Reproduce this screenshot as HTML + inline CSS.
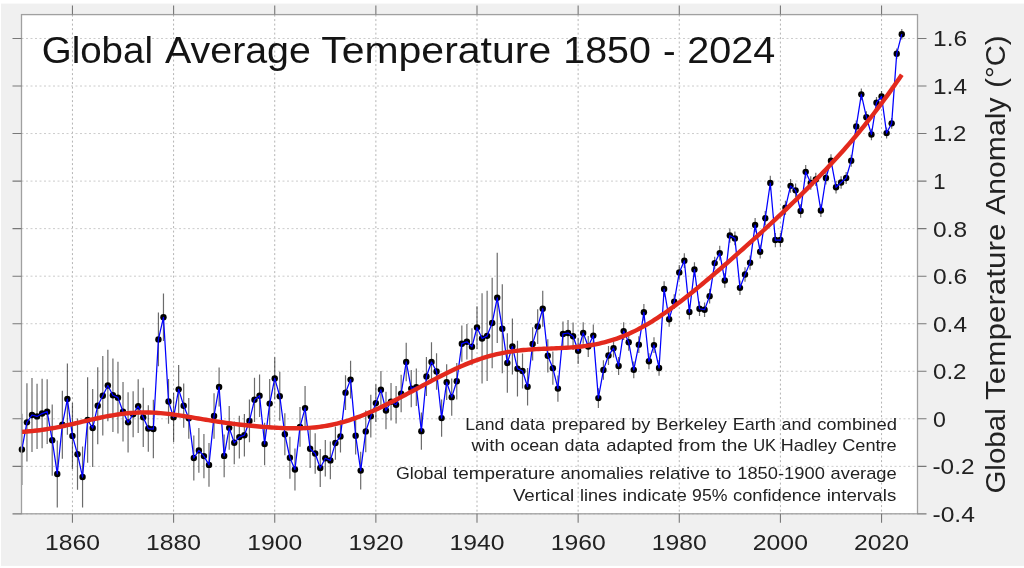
<!DOCTYPE html><html><head><meta charset="utf-8"><title>Global Average Temperature 1850 - 2024</title><style>html,body{margin:0;padding:0;background:#fff;width:1024px;height:568px;overflow:hidden}svg{display:block;will-change:transform}text{font-family:"Liberation Sans",sans-serif}</style></head><body><svg width="1024" height="568" viewBox="0 0 1024 568"><rect x="0" y="0" width="1024" height="568" fill="#ffffff"/><rect x="1" y="3.6" width="1023" height="562.3" fill="#f0f0f0"/><rect x="21.5" y="14.6" width="896.0" height="499.19999999999993" fill="#ffffff"/><path d="M72.45 14.6V513.8M173.59 14.6V513.8M274.73 14.6V513.8M375.86 14.6V513.8M477.00 14.6V513.8M578.14 14.6V513.8M679.28 14.6V513.8M780.42 14.6V513.8M881.55 14.6V513.8" stroke="#b4b4b4" stroke-width="1" stroke-dasharray="2 2.5" fill="none"/><path d="M21.5 38.48H917.5M21.5 86.02H917.5M21.5 133.56H917.5M21.5 181.10H917.5M21.5 228.64H917.5M21.5 276.18H917.5M21.5 323.72H917.5M21.5 371.26H917.5M21.5 418.80H917.5M21.5 466.34H917.5M21.5 513.88H917.5" stroke="#cccccc" stroke-width="1" stroke-dasharray="2 2.5" fill="none"/><path d="M21.88 413.81V485.12M26.94 383.14V461.59M31.99 377.92V452.08M37.05 383.86V448.99M42.11 378.87V448.27M47.17 379.34V444.00M52.22 404.54V475.85M57.28 440.43V507.46M62.34 390.75V458.73M67.39 363.42V434.73M72.45 402.87V468.95M77.51 418.56V489.87M82.56 446.61V507.46M87.62 377.20V462.77M92.68 389.09V467.05M97.73 367.22V444.23M102.79 356.05V435.44M107.85 349.87V421.18M112.91 358.42V432.11M117.96 361.75V433.54M123.02 381.96V441.38M128.08 392.18V452.55M133.13 391.23V437.34M138.19 379.34V433.06M143.25 387.66V447.09M148.30 405.25V451.84M153.36 399.78V458.26M158.42 312.55V366.27M163.47 293.53V341.07M168.53 379.10V423.79M173.59 392.65V442.09M178.64 365.08V413.57M183.70 383.62V427.83M188.76 397.88V438.77M193.82 435.44V480.60M198.87 428.07V472.76M203.93 434.01V478.23M208.99 443.05V486.78M214.04 393.13V438.77M219.10 367.46V406.44M224.16 434.49V477.27M229.21 405.96V449.70M234.27 421.47V464.14M239.33 415.80V458.41M244.38 413.93V456.48M249.44 399.55V442.33M254.50 377.68V421.89M259.56 374.59V416.90M264.61 422.84V465.15M269.67 379.10V428.07M274.73 357.30V399.49M279.78 371.74V420.70M284.84 413.21V455.29M289.90 436.78V478.79M294.95 448.45V490.41M300.01 406.92V446.85M305.07 386.00V430.21M310.12 429.50V468.00M315.18 433.30V473.71M320.24 449.02V486.99M325.30 439.96V476.56M330.35 441.44V479.35M335.41 426.41V459.68M340.47 420.23V452.55M345.52 375.30V410.01M350.58 360.68V398.48M355.64 416.79V454.56M360.69 451.75V489.49M365.75 410.48V452.32M370.81 394.79V437.58M375.86 384.29V421.93M380.92 370.99V408.61M385.98 391.69V429.27M391.03 382.91V420.46M396.09 386.01V423.54M401.15 374.86V412.35M406.21 342.74V381.24M411.26 369.89V407.33M416.32 368.48V405.89M421.38 412.47V449.85M426.43 357.00V395.98M431.49 342.26V381.72M436.55 353.19V389.80M441.60 399.46V436.72M446.66 364.37V400.02M451.72 378.57V415.77M456.77 362.94V399.55M461.83 325.62V361.75M466.89 323.96V359.61M471.95 328.24V365.32M477.00 306.13V348.92M482.06 293.29V383.62M487.12 290.68V381.01M492.17 277.84V368.17M497.23 252.65V342.97M502.29 284.26V373.16M507.34 333.23V392.65M512.40 318.49V374.59M517.46 340.83V396.46M522.51 353.43V388.61M527.57 367.93V405.49M532.63 327.29V360.56M537.68 309.22V343.92M542.74 290.68V326.81M547.80 339.17V372.45M552.86 351.53V384.81M557.91 375.54V401.69M562.97 321.58V346.30M568.03 319.92V346.06M573.08 322.53V350.10M578.14 337.74V363.89M583.20 322.29V343.69M588.25 336.08V357.00M593.31 324.43V346.78M598.37 388.14V408.10M603.42 360.33V379.82M608.48 346.06V365.08M613.54 338.93V357.47M618.60 357.00V375.06M623.65 322.29V339.88M628.71 333.70V350.82M633.77 361.40V378.27M638.82 336.32V352.96M643.88 304.11V320.51M648.94 353.19V369.36M653.99 337.15V353.08M659.05 360.09V375.78M664.11 281.29V296.74M669.16 311.60V326.81M674.22 294.13V309.10M679.28 265.01V279.75M684.33 253.37V268.09M689.39 304.73V319.42M694.45 262.19V276.86M699.51 301.42V316.07M704.56 302.39V317.00M709.62 288.85V303.44M714.68 256.69V269.52M719.73 245.75V260.49M724.79 273.20V287.72M729.85 228.40V242.66M734.90 231.49V245.28M739.96 280.60V295.05M745.02 267.30V281.73M750.07 255.43V269.83M755.13 217.88V232.26M760.19 244.80V258.59M765.25 211.01V225.35M770.30 175.85V190.16M775.36 232.92V247.18M780.42 232.92V247.18M785.47 200.67V214.77M790.53 178.88V192.83M795.59 183.48V197.26M800.64 204.24V217.86M805.70 165.09V178.56M810.76 176.35V189.66M815.81 172.86V186.01M820.87 204.08V217.07M825.93 171.59V184.43M830.99 154.32V167.00M836.04 181.02V193.54M841.10 176.35V188.71M846.16 171.91V184.11M851.21 154.64V166.68M856.27 120.49V132.37M861.33 88.48V100.20M866.38 111.37V122.94M871.44 128.81V140.22M876.50 97.03V108.28M881.55 90.93V102.03M886.61 127.62V138.55M891.67 117.95V128.73M896.72 48.38V59.00M901.78 28.97V39.43" stroke="#000" stroke-opacity="0.58" stroke-width="1.2" fill="none"/><g fill="#000"><circle cx="21.88" cy="449.46" r="3.2"/><circle cx="26.94" cy="422.37" r="3.2"/><circle cx="31.99" cy="415.00" r="3.2"/><circle cx="37.05" cy="416.42" r="3.2"/><circle cx="42.11" cy="413.57" r="3.2"/><circle cx="47.17" cy="411.67" r="3.2"/><circle cx="52.22" cy="440.19" r="3.2"/><circle cx="57.28" cy="473.95" r="3.2"/><circle cx="62.34" cy="424.74" r="3.2"/><circle cx="67.39" cy="399.07" r="3.2"/><circle cx="72.45" cy="435.91" r="3.2"/><circle cx="77.51" cy="454.22" r="3.2"/><circle cx="82.56" cy="477.04" r="3.2"/><circle cx="87.62" cy="419.99" r="3.2"/><circle cx="92.68" cy="428.07" r="3.2"/><circle cx="97.73" cy="405.73" r="3.2"/><circle cx="102.79" cy="395.74" r="3.2"/><circle cx="107.85" cy="385.52" r="3.2"/><circle cx="112.91" cy="395.27" r="3.2"/><circle cx="117.96" cy="397.64" r="3.2"/><circle cx="123.02" cy="411.67" r="3.2"/><circle cx="128.08" cy="422.37" r="3.2"/><circle cx="133.13" cy="414.28" r="3.2"/><circle cx="138.19" cy="406.20" r="3.2"/><circle cx="143.25" cy="417.37" r="3.2"/><circle cx="148.30" cy="428.55" r="3.2"/><circle cx="153.36" cy="429.02" r="3.2"/><circle cx="158.42" cy="339.41" r="3.2"/><circle cx="163.47" cy="317.30" r="3.2"/><circle cx="168.53" cy="401.45" r="3.2"/><circle cx="173.59" cy="417.37" r="3.2"/><circle cx="178.64" cy="389.33" r="3.2"/><circle cx="183.70" cy="405.73" r="3.2"/><circle cx="188.76" cy="418.32" r="3.2"/><circle cx="193.82" cy="458.02" r="3.2"/><circle cx="198.87" cy="450.41" r="3.2"/><circle cx="203.93" cy="456.12" r="3.2"/><circle cx="208.99" cy="464.91" r="3.2"/><circle cx="214.04" cy="415.95" r="3.2"/><circle cx="219.10" cy="386.95" r="3.2"/><circle cx="224.16" cy="455.88" r="3.2"/><circle cx="229.21" cy="427.83" r="3.2"/><circle cx="234.27" cy="442.81" r="3.2"/><circle cx="239.33" cy="437.10" r="3.2"/><circle cx="244.38" cy="435.20" r="3.2"/><circle cx="249.44" cy="420.94" r="3.2"/><circle cx="254.50" cy="399.78" r="3.2"/><circle cx="259.56" cy="395.74" r="3.2"/><circle cx="264.61" cy="444.00" r="3.2"/><circle cx="269.67" cy="403.59" r="3.2"/><circle cx="274.73" cy="378.39" r="3.2"/><circle cx="279.78" cy="396.22" r="3.2"/><circle cx="284.84" cy="434.25" r="3.2"/><circle cx="289.90" cy="457.78" r="3.2"/><circle cx="294.95" cy="469.43" r="3.2"/><circle cx="300.01" cy="426.88" r="3.2"/><circle cx="305.07" cy="408.10" r="3.2"/><circle cx="310.12" cy="448.75" r="3.2"/><circle cx="315.18" cy="453.50" r="3.2"/><circle cx="320.24" cy="468.00" r="3.2"/><circle cx="325.30" cy="458.26" r="3.2"/><circle cx="330.35" cy="460.40" r="3.2"/><circle cx="335.41" cy="443.05" r="3.2"/><circle cx="340.47" cy="436.39" r="3.2"/><circle cx="345.52" cy="392.65" r="3.2"/><circle cx="350.58" cy="379.58" r="3.2"/><circle cx="355.64" cy="435.68" r="3.2"/><circle cx="360.69" cy="470.62" r="3.2"/><circle cx="365.75" cy="431.40" r="3.2"/><circle cx="370.81" cy="416.19" r="3.2"/><circle cx="375.86" cy="403.11" r="3.2"/><circle cx="380.92" cy="389.80" r="3.2"/><circle cx="385.98" cy="410.48" r="3.2"/><circle cx="391.03" cy="401.69" r="3.2"/><circle cx="396.09" cy="404.78" r="3.2"/><circle cx="401.15" cy="393.60" r="3.2"/><circle cx="406.21" cy="361.99" r="3.2"/><circle cx="411.26" cy="388.61" r="3.2"/><circle cx="416.32" cy="387.19" r="3.2"/><circle cx="421.38" cy="431.16" r="3.2"/><circle cx="426.43" cy="376.49" r="3.2"/><circle cx="431.49" cy="361.99" r="3.2"/><circle cx="436.55" cy="371.50" r="3.2"/><circle cx="441.60" cy="418.09" r="3.2"/><circle cx="446.66" cy="382.19" r="3.2"/><circle cx="451.72" cy="397.17" r="3.2"/><circle cx="456.77" cy="381.24" r="3.2"/><circle cx="461.83" cy="343.69" r="3.2"/><circle cx="466.89" cy="341.79" r="3.2"/><circle cx="471.95" cy="346.78" r="3.2"/><circle cx="477.00" cy="327.52" r="3.2"/><circle cx="482.06" cy="338.46" r="3.2"/><circle cx="487.12" cy="335.84" r="3.2"/><circle cx="492.17" cy="323.01" r="3.2"/><circle cx="497.23" cy="297.81" r="3.2"/><circle cx="502.29" cy="328.71" r="3.2"/><circle cx="507.34" cy="362.94" r="3.2"/><circle cx="512.40" cy="346.54" r="3.2"/><circle cx="517.46" cy="368.65" r="3.2"/><circle cx="522.51" cy="371.02" r="3.2"/><circle cx="527.57" cy="386.71" r="3.2"/><circle cx="532.63" cy="343.92" r="3.2"/><circle cx="537.68" cy="326.57" r="3.2"/><circle cx="542.74" cy="308.74" r="3.2"/><circle cx="547.80" cy="355.81" r="3.2"/><circle cx="552.86" cy="368.17" r="3.2"/><circle cx="557.91" cy="388.61" r="3.2"/><circle cx="562.97" cy="333.94" r="3.2"/><circle cx="568.03" cy="332.99" r="3.2"/><circle cx="573.08" cy="336.32" r="3.2"/><circle cx="578.14" cy="350.82" r="3.2"/><circle cx="583.20" cy="332.99" r="3.2"/><circle cx="588.25" cy="346.54" r="3.2"/><circle cx="593.31" cy="335.61" r="3.2"/><circle cx="598.37" cy="398.12" r="3.2"/><circle cx="603.42" cy="370.07" r="3.2"/><circle cx="608.48" cy="355.57" r="3.2"/><circle cx="613.54" cy="348.20" r="3.2"/><circle cx="618.60" cy="366.03" r="3.2"/><circle cx="623.65" cy="331.09" r="3.2"/><circle cx="628.71" cy="342.26" r="3.2"/><circle cx="633.77" cy="369.83" r="3.2"/><circle cx="638.82" cy="344.64" r="3.2"/><circle cx="643.88" cy="312.31" r="3.2"/><circle cx="648.94" cy="361.28" r="3.2"/><circle cx="653.99" cy="345.11" r="3.2"/><circle cx="659.05" cy="367.93" r="3.2"/><circle cx="664.11" cy="289.02" r="3.2"/><circle cx="669.16" cy="319.20" r="3.2"/><circle cx="674.22" cy="301.61" r="3.2"/><circle cx="679.28" cy="272.38" r="3.2"/><circle cx="684.33" cy="260.73" r="3.2"/><circle cx="689.39" cy="312.07" r="3.2"/><circle cx="694.45" cy="269.52" r="3.2"/><circle cx="699.51" cy="308.74" r="3.2"/><circle cx="704.56" cy="309.70" r="3.2"/><circle cx="709.62" cy="296.15" r="3.2"/><circle cx="714.68" cy="263.11" r="3.2"/><circle cx="719.73" cy="253.12" r="3.2"/><circle cx="724.79" cy="280.46" r="3.2"/><circle cx="729.85" cy="235.53" r="3.2"/><circle cx="734.90" cy="238.39" r="3.2"/><circle cx="739.96" cy="287.83" r="3.2"/><circle cx="745.02" cy="274.52" r="3.2"/><circle cx="750.07" cy="262.63" r="3.2"/><circle cx="755.13" cy="225.07" r="3.2"/><circle cx="760.19" cy="251.70" r="3.2"/><circle cx="765.25" cy="218.18" r="3.2"/><circle cx="770.30" cy="183.00" r="3.2"/><circle cx="775.36" cy="240.05" r="3.2"/><circle cx="780.42" cy="240.05" r="3.2"/><circle cx="785.47" cy="207.72" r="3.2"/><circle cx="790.53" cy="185.85" r="3.2"/><circle cx="795.59" cy="190.37" r="3.2"/><circle cx="800.64" cy="211.05" r="3.2"/><circle cx="805.70" cy="171.83" r="3.2"/><circle cx="810.76" cy="183.00" r="3.2"/><circle cx="815.81" cy="179.44" r="3.2"/><circle cx="820.87" cy="210.57" r="3.2"/><circle cx="825.93" cy="178.01" r="3.2"/><circle cx="830.99" cy="160.66" r="3.2"/><circle cx="836.04" cy="187.28" r="3.2"/><circle cx="841.10" cy="182.53" r="3.2"/><circle cx="846.16" cy="178.01" r="3.2"/><circle cx="851.21" cy="160.66" r="3.2"/><circle cx="856.27" cy="126.43" r="3.2"/><circle cx="861.33" cy="94.34" r="3.2"/><circle cx="866.38" cy="117.16" r="3.2"/><circle cx="871.44" cy="134.51" r="3.2"/><circle cx="876.50" cy="102.66" r="3.2"/><circle cx="881.55" cy="96.48" r="3.2"/><circle cx="886.61" cy="133.08" r="3.2"/><circle cx="891.67" cy="123.34" r="3.2"/><circle cx="896.72" cy="53.69" r="3.2"/><circle cx="901.78" cy="34.20" r="3.2"/></g><polyline points="21.88,449.46 26.94,422.37 31.99,415.00 37.05,416.42 42.11,413.57 47.17,411.67 52.22,440.19 57.28,473.95 62.34,424.74 67.39,399.07 72.45,435.91 77.51,454.22 82.56,477.04 87.62,419.99 92.68,428.07 97.73,405.73 102.79,395.74 107.85,385.52 112.91,395.27 117.96,397.64 123.02,411.67 128.08,422.37 133.13,414.28 138.19,406.20 143.25,417.37 148.30,428.55 153.36,429.02 158.42,339.41 163.47,317.30 168.53,401.45 173.59,417.37 178.64,389.33 183.70,405.73 188.76,418.32 193.82,458.02 198.87,450.41 203.93,456.12 208.99,464.91 214.04,415.95 219.10,386.95 224.16,455.88 229.21,427.83 234.27,442.81 239.33,437.10 244.38,435.20 249.44,420.94 254.50,399.78 259.56,395.74 264.61,444.00 269.67,403.59 274.73,378.39 279.78,396.22 284.84,434.25 289.90,457.78 294.95,469.43 300.01,426.88 305.07,408.10 310.12,448.75 315.18,453.50 320.24,468.00 325.30,458.26 330.35,460.40 335.41,443.05 340.47,436.39 345.52,392.65 350.58,379.58 355.64,435.68 360.69,470.62 365.75,431.40 370.81,416.19 375.86,403.11 380.92,389.80 385.98,410.48 391.03,401.69 396.09,404.78 401.15,393.60 406.21,361.99 411.26,388.61 416.32,387.19 421.38,431.16 426.43,376.49 431.49,361.99 436.55,371.50 441.60,418.09 446.66,382.19 451.72,397.17 456.77,381.24 461.83,343.69 466.89,341.79 471.95,346.78 477.00,327.52 482.06,338.46 487.12,335.84 492.17,323.01 497.23,297.81 502.29,328.71 507.34,362.94 512.40,346.54 517.46,368.65 522.51,371.02 527.57,386.71 532.63,343.92 537.68,326.57 542.74,308.74 547.80,355.81 552.86,368.17 557.91,388.61 562.97,333.94 568.03,332.99 573.08,336.32 578.14,350.82 583.20,332.99 588.25,346.54 593.31,335.61 598.37,398.12 603.42,370.07 608.48,355.57 613.54,348.20 618.60,366.03 623.65,331.09 628.71,342.26 633.77,369.83 638.82,344.64 643.88,312.31 648.94,361.28 653.99,345.11 659.05,367.93 664.11,289.02 669.16,319.20 674.22,301.61 679.28,272.38 684.33,260.73 689.39,312.07 694.45,269.52 699.51,308.74 704.56,309.70 709.62,296.15 714.68,263.11 719.73,253.12 724.79,280.46 729.85,235.53 734.90,238.39 739.96,287.83 745.02,274.52 750.07,262.63 755.13,225.07 760.19,251.70 765.25,218.18 770.30,183.00 775.36,240.05 780.42,240.05 785.47,207.72 790.53,185.85 795.59,190.37 800.64,211.05 805.70,171.83 810.76,183.00 815.81,179.44 820.87,210.57 825.93,178.01 830.99,160.66 836.04,187.28 841.10,182.53 846.16,178.01 851.21,160.66 856.27,126.43 861.33,94.34 866.38,117.16 871.44,134.51 876.50,102.66 881.55,96.48 886.61,133.08 891.67,123.34 896.72,53.69 901.78,34.20" fill="none" stroke="#0000ff" stroke-width="1.25" stroke-linejoin="round"/><polyline points="21.88,431.87 24.40,431.71 26.92,431.53 29.44,431.31 31.97,431.07 34.49,430.81 37.01,430.52 39.53,430.20 42.05,429.86 44.57,429.49 47.09,429.10 49.61,428.68 52.14,428.25 54.66,427.79 57.18,427.31 59.70,426.81 62.22,426.29 64.74,425.75 67.26,425.21 69.78,424.65 72.31,424.08 74.83,423.50 77.35,422.91 79.87,422.32 82.39,421.73 84.91,421.14 87.43,420.55 89.95,419.97 92.47,419.39 95.00,418.83 97.52,418.27 100.04,417.73 102.56,417.20 105.08,416.70 107.60,416.21 110.12,415.75 112.64,415.31 115.17,414.89 117.69,414.51 120.21,414.15 122.73,413.83 125.25,413.54 127.77,413.28 130.29,413.05 132.81,412.86 135.34,412.71 137.86,412.59 140.38,412.51 142.90,412.46 145.42,412.45 147.94,412.48 150.46,412.54 152.98,412.64 155.50,412.77 158.03,412.93 160.55,413.13 163.07,413.35 165.59,413.60 168.11,413.88 170.63,414.18 173.15,414.51 175.67,414.85 178.20,415.22 180.72,415.59 183.24,415.99 185.76,416.39 188.28,416.80 190.80,417.22 193.32,417.65 195.84,418.08 198.37,418.50 200.89,418.93 203.41,419.36 205.93,419.78 208.45,420.19 210.97,420.60 213.49,421.00 216.01,421.39 218.54,421.77 221.06,422.15 223.58,422.51 226.10,422.86 228.62,423.20 231.14,423.53 233.66,423.85 236.18,424.15 238.70,424.45 241.23,424.74 243.75,425.01 246.27,425.28 248.79,425.54 251.31,425.79 253.83,426.03 256.35,426.26 258.87,426.48 261.40,426.69 263.92,426.90 266.44,427.09 268.96,427.27 271.48,427.45 274.00,427.61 276.52,427.76 279.04,427.89 281.57,428.01 284.09,428.11 286.61,428.20 289.13,428.26 291.65,428.30 294.17,428.32 296.69,428.32 299.21,428.29 301.73,428.23 304.26,428.14 306.78,428.02 309.30,427.87 311.82,427.68 314.34,427.45 316.86,427.19 319.38,426.89 321.90,426.54 324.43,426.16 326.95,425.74 329.47,425.27 331.99,424.76 334.51,424.21 337.03,423.62 339.55,422.99 342.07,422.31 344.60,421.59 347.12,420.83 349.64,420.03 352.16,419.19 354.68,418.31 357.20,417.40 359.72,416.45 362.24,415.47 364.76,414.45 367.29,413.40 369.81,412.33 372.33,411.22 374.85,410.09 377.37,408.93 379.89,407.75 382.41,406.55 384.93,405.32 387.46,404.08 389.98,402.82 392.50,401.55 395.02,400.26 397.54,398.95 400.06,397.64 402.58,396.32 405.10,394.98 407.63,393.64 410.15,392.30 412.67,390.95 415.19,389.60 417.71,388.24 420.23,386.89 422.75,385.53 425.27,384.18 427.80,382.84 430.32,381.50 432.84,380.17 435.36,378.85 437.88,377.54 440.40,376.24 442.92,374.96 445.44,373.69 447.96,372.45 450.49,371.22 453.01,370.02 455.53,368.84 458.05,367.69 460.57,366.56 463.09,365.46 465.61,364.40 468.13,363.37 470.66,362.37 473.18,361.40 475.70,360.48 478.22,359.59 480.74,358.73 483.26,357.92 485.78,357.15 488.30,356.41 490.83,355.72 493.35,355.06 495.87,354.45 498.39,353.87 500.91,353.33 503.43,352.84 505.95,352.37 508.47,351.95 510.99,351.55 513.52,351.19 516.04,350.87 518.56,350.57 521.08,350.30 523.60,350.06 526.12,349.84 528.64,349.64 531.16,349.46 533.69,349.31 536.21,349.16 538.73,349.03 541.25,348.91 543.77,348.80 546.29,348.69 548.81,348.59 551.33,348.49 553.86,348.39 556.38,348.28 558.90,348.17 561.42,348.05 563.94,347.91 566.46,347.76 568.98,347.60 571.50,347.42 574.02,347.22 576.55,346.99 579.07,346.74 581.59,346.46 584.11,346.15 586.63,345.81 589.15,345.43 591.67,345.02 594.19,344.57 596.72,344.08 599.24,343.55 601.76,342.97 604.28,342.35 606.80,341.69 609.32,340.98 611.84,340.22 614.36,339.41 616.89,338.55 619.41,337.64 621.93,336.68 624.45,335.67 626.97,334.61 629.49,333.49 632.01,332.33 634.53,331.11 637.06,329.85 639.58,328.54 642.10,327.17 644.62,325.77 647.14,324.31 649.66,322.81 652.18,321.27 654.70,319.68 657.22,318.06 659.75,316.39 662.27,314.69 664.79,312.96 667.31,311.19 669.83,309.38 672.35,307.55 674.87,305.69 677.39,303.80 679.92,301.89 682.44,299.95 684.96,297.99 687.48,296.01 690.00,294.01 692.52,291.99 695.04,289.95 697.56,287.90 700.09,285.83 702.61,283.75 705.13,281.66 707.65,279.55 710.17,277.43 712.69,275.30 715.21,273.16 717.73,271.01 720.25,268.84 722.78,266.67 725.30,264.49 727.82,262.30 730.34,260.10 732.86,257.90 735.38,255.68 737.90,253.46 740.42,251.22 742.95,248.98 745.47,246.73 747.99,244.47 750.51,242.21 753.03,239.93 755.55,237.65 758.07,235.36 760.59,233.06 763.12,230.75 765.64,228.43 768.16,226.10 770.68,223.76 773.20,221.42 775.72,219.06 778.24,216.69 780.76,214.32 783.28,211.93 785.81,209.53 788.33,207.12 790.85,204.70 793.37,202.26 795.89,199.82 798.41,197.35 800.93,194.88 803.45,192.39 805.98,189.89 808.50,187.37 811.02,184.83 813.54,182.28 816.06,179.70 818.58,177.11 821.10,174.50 823.62,171.86 826.15,169.21 828.67,166.53 831.19,163.83 833.71,161.10 836.23,158.35 838.75,155.56 841.27,152.75 843.79,149.92 846.32,147.05 848.84,144.15 851.36,141.21 853.88,138.25 856.40,135.25 858.92,132.22 861.44,129.15 863.96,126.04 866.48,122.90 869.01,119.72 871.53,116.50 874.05,113.24 876.57,109.94 879.09,106.61 881.61,103.23 884.13,99.81 886.65,96.35 889.18,92.85 891.70,89.30 894.22,85.72 896.74,82.09 899.26,78.41 901.78,74.70" fill="none" stroke="#e3291d" stroke-width="4.4" stroke-linecap="butt" stroke-linejoin="round"/><rect x="21.5" y="14.6" width="896.0" height="499.19999999999993" fill="none" stroke="#a0a0a0" stroke-width="1.3"/><path d="M72.45 513.8v9M72.45 14.6v-9M173.59 513.8v9M173.59 14.6v-9M274.73 513.8v9M274.73 14.6v-9M375.86 513.8v9M375.86 14.6v-9M477.00 513.8v9M477.00 14.6v-9M578.14 513.8v9M578.14 14.6v-9M679.28 513.8v9M679.28 14.6v-9M780.42 513.8v9M780.42 14.6v-9M881.55 513.8v9M881.55 14.6v-9M21.5 38.48h-9M917.5 38.48h9M21.5 86.02h-9M917.5 86.02h9M21.5 133.56h-9M917.5 133.56h9M21.5 181.10h-9M917.5 181.10h9M21.5 228.64h-9M917.5 228.64h9M21.5 276.18h-9M917.5 276.18h9M21.5 323.72h-9M917.5 323.72h9M21.5 371.26h-9M917.5 371.26h9M21.5 418.80h-9M917.5 418.80h9M21.5 466.34h-9M917.5 466.34h9M21.5 513.88h-9M917.5 513.88h9" stroke="#787878" stroke-width="1.1" fill="none"/><text x="41.76" y="62.80" font-size="36.2" fill="#141414" textLength="111.21" lengthAdjust="spacingAndGlyphs">Global</text><text x="165.04" y="62.80" font-size="36.2" fill="#141414" textLength="145.87" lengthAdjust="spacingAndGlyphs">Average</text><text x="321.19" y="62.80" font-size="36.2" fill="#141414" textLength="230.00" lengthAdjust="spacingAndGlyphs">Temperature</text><text x="563.28" y="62.80" font-size="36.2" fill="#141414" textLength="87.68" lengthAdjust="spacingAndGlyphs">1850</text><text x="662.94" y="62.80" font-size="36.2" fill="#141414" textLength="12.60" lengthAdjust="spacingAndGlyphs">-</text><text x="687.32" y="62.80" font-size="36.2" fill="#141414" textLength="87.93" lengthAdjust="spacingAndGlyphs">2024</text><text x="465.16" y="429.60" font-size="16.4" fill="#222222" textLength="39.13" lengthAdjust="spacingAndGlyphs">Land</text><text x="509.93" y="429.60" font-size="16.4" fill="#222222" textLength="34.98" lengthAdjust="spacingAndGlyphs">data</text><text x="551.84" y="429.60" font-size="16.4" fill="#222222" textLength="73.67" lengthAdjust="spacingAndGlyphs">prepared</text><text x="631.27" y="429.60" font-size="16.4" fill="#222222" textLength="19.17" lengthAdjust="spacingAndGlyphs">by</text><text x="656.16" y="429.60" font-size="16.4" fill="#222222" textLength="70.80" lengthAdjust="spacingAndGlyphs">Berkeley</text><text x="732.68" y="429.60" font-size="16.4" fill="#222222" textLength="43.25" lengthAdjust="spacingAndGlyphs">Earth</text><text x="781.52" y="429.60" font-size="16.4" fill="#222222" textLength="30.04" lengthAdjust="spacingAndGlyphs">and</text><text x="817.16" y="429.60" font-size="16.4" fill="#222222" textLength="79.73" lengthAdjust="spacingAndGlyphs">combined</text><text x="471.43" y="451.00" font-size="16.4" fill="#222222" textLength="33.50" lengthAdjust="spacingAndGlyphs">with</text><text x="510.37" y="451.00" font-size="16.4" fill="#222222" textLength="48.61" lengthAdjust="spacingAndGlyphs">ocean</text><text x="564.49" y="451.00" font-size="16.4" fill="#222222" textLength="34.87" lengthAdjust="spacingAndGlyphs">data</text><text x="606.16" y="451.00" font-size="16.4" fill="#222222" textLength="66.53" lengthAdjust="spacingAndGlyphs">adapted</text><text x="678.23" y="451.00" font-size="16.4" fill="#222222" textLength="37.81" lengthAdjust="spacingAndGlyphs">from</text><text x="721.47" y="451.00" font-size="16.4" fill="#222222" textLength="26.41" lengthAdjust="spacingAndGlyphs">the</text><text x="753.19" y="451.00" font-size="16.4" fill="#222222" textLength="22.86" lengthAdjust="spacingAndGlyphs">UK</text><text x="780.79" y="451.00" font-size="16.4" fill="#222222" textLength="55.87" lengthAdjust="spacingAndGlyphs">Hadley</text><text x="842.24" y="451.00" font-size="16.4" fill="#222222" textLength="54.47" lengthAdjust="spacingAndGlyphs">Centre</text><text x="395.91" y="478.70" font-size="16.4" fill="#222222" textLength="51.39" lengthAdjust="spacingAndGlyphs">Global</text><text x="452.93" y="478.70" font-size="16.4" fill="#222222" textLength="102.13" lengthAdjust="spacingAndGlyphs">temperature</text><text x="560.43" y="478.70" font-size="16.4" fill="#222222" textLength="82.98" lengthAdjust="spacingAndGlyphs">anomalies</text><text x="648.91" y="478.70" font-size="16.4" fill="#222222" textLength="61.30" lengthAdjust="spacingAndGlyphs">relative</text><text x="715.53" y="478.70" font-size="16.4" fill="#222222" textLength="16.06" lengthAdjust="spacingAndGlyphs">to</text><text x="737.20" y="478.70" font-size="16.4" fill="#222222" textLength="87.65" lengthAdjust="spacingAndGlyphs">1850-1900</text><text x="830.57" y="478.70" font-size="16.4" fill="#222222" textLength="66.15" lengthAdjust="spacingAndGlyphs">average</text><text x="512.92" y="500.70" font-size="16.4" fill="#222222" textLength="61.34" lengthAdjust="spacingAndGlyphs">Vertical</text><text x="579.98" y="500.70" font-size="16.4" fill="#222222" textLength="37.10" lengthAdjust="spacingAndGlyphs">lines</text><text x="622.62" y="500.70" font-size="16.4" fill="#222222" textLength="64.16" lengthAdjust="spacingAndGlyphs">indicate</text><text x="692.13" y="500.70" font-size="16.4" fill="#222222" textLength="35.43" lengthAdjust="spacingAndGlyphs">95%</text><text x="733.07" y="500.70" font-size="16.4" fill="#222222" textLength="88.19" lengthAdjust="spacingAndGlyphs">confidence</text><text x="826.71" y="500.70" font-size="16.4" fill="#222222" textLength="69.56" lengthAdjust="spacingAndGlyphs">intervals</text><text x="44.99" y="550.10" font-size="22.2" fill="#222222" textLength="54.96" lengthAdjust="spacingAndGlyphs">1860</text><text x="146.13" y="550.10" font-size="22.2" fill="#222222" textLength="54.96" lengthAdjust="spacingAndGlyphs">1880</text><text x="247.27" y="550.10" font-size="22.2" fill="#222222" textLength="54.96" lengthAdjust="spacingAndGlyphs">1900</text><text x="348.41" y="550.10" font-size="22.2" fill="#222222" textLength="54.96" lengthAdjust="spacingAndGlyphs">1920</text><text x="449.54" y="550.10" font-size="22.2" fill="#222222" textLength="54.96" lengthAdjust="spacingAndGlyphs">1940</text><text x="550.68" y="550.10" font-size="22.2" fill="#222222" textLength="54.96" lengthAdjust="spacingAndGlyphs">1960</text><text x="651.82" y="550.10" font-size="22.2" fill="#222222" textLength="54.96" lengthAdjust="spacingAndGlyphs">1980</text><text x="752.79" y="550.10" font-size="22.2" fill="#222222" textLength="55.13" lengthAdjust="spacingAndGlyphs">2000</text><text x="853.92" y="550.10" font-size="22.2" fill="#222222" textLength="55.13" lengthAdjust="spacingAndGlyphs">2020</text><text x="933.05" y="46.38" font-size="22.2" fill="#222222" textLength="34.13" lengthAdjust="spacingAndGlyphs">1.6</text><text x="933.06" y="93.92" font-size="22.2" fill="#222222" textLength="33.91" lengthAdjust="spacingAndGlyphs">1.4</text><text x="933.09" y="141.46" font-size="22.2" fill="#222222" textLength="33.41" lengthAdjust="spacingAndGlyphs">1.2</text><text x="933.23" y="189.00" font-size="22.2" fill="#222222" textLength="12.32" lengthAdjust="spacingAndGlyphs">1</text><text x="932.99" y="236.54" font-size="22.2" fill="#222222" textLength="34.05" lengthAdjust="spacingAndGlyphs">0.8</text><text x="932.99" y="284.08" font-size="22.2" fill="#222222" textLength="34.19" lengthAdjust="spacingAndGlyphs">0.6</text><text x="933.00" y="331.62" font-size="22.2" fill="#222222" textLength="33.97" lengthAdjust="spacingAndGlyphs">0.4</text><text x="933.01" y="379.16" font-size="22.2" fill="#222222" textLength="33.49" lengthAdjust="spacingAndGlyphs">0.2</text><text x="933.04" y="426.70" font-size="22.2" fill="#222222" textLength="12.90" lengthAdjust="spacingAndGlyphs">0</text><text x="932.49" y="474.24" font-size="22.2" fill="#222222" textLength="41.96" lengthAdjust="spacingAndGlyphs">-0.2</text><text x="932.48" y="521.78" font-size="22.2" fill="#222222" textLength="42.43" lengthAdjust="spacingAndGlyphs">-0.4</text><text x="0" y="0" font-size="28.2" fill="#222222" textLength="85.31" lengthAdjust="spacingAndGlyphs" transform="translate(1004.5 493.58) rotate(-90)">Global</text><text x="0" y="0" font-size="28.2" fill="#222222" textLength="176.42" lengthAdjust="spacingAndGlyphs" transform="translate(1004.5 399.94) rotate(-90)">Temperature</text><text x="0" y="0" font-size="28.2" fill="#222222" textLength="117.20" lengthAdjust="spacingAndGlyphs" transform="translate(1004.5 214.75) rotate(-90)">Anomaly</text><text x="0" y="0" font-size="28.2" fill="#222222" textLength="52.27" lengthAdjust="spacingAndGlyphs" transform="translate(1004.5 87.75) rotate(-90)">(°C)</text></svg></body></html>
